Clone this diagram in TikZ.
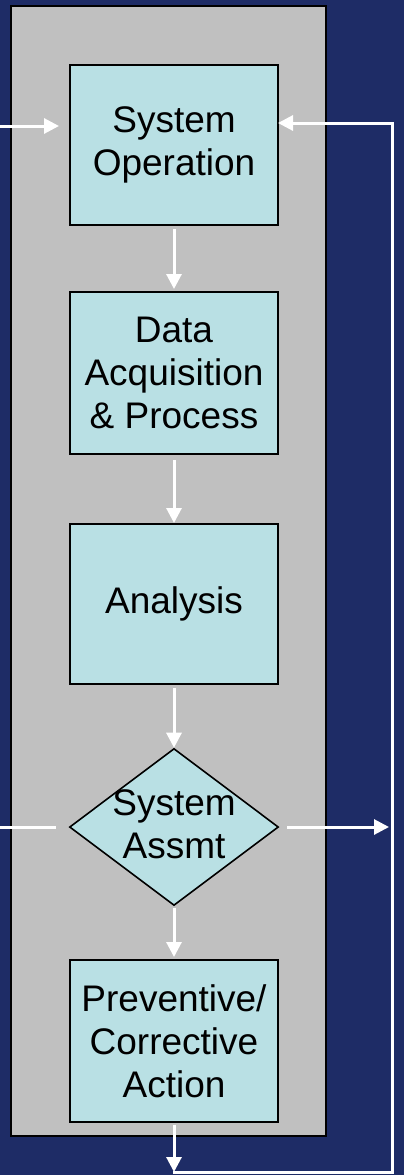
\documentclass[tikz,border=0pt]{standalone}
\usepackage{fontspec}
\setmainfont{Liberation Sans}
\usetikzlibrary{shapes.geometric,arrows.meta}
\definecolor{navy}{RGB}{30,44,102}
\definecolor{panelgray}{RGB}{192,192,192}
\definecolor{boxcyan}{RGB}{185,224,228}
\tikzset{
  stepbox/.style={draw=black,line width=2pt,fill=boxcyan,minimum width=208pt,minimum height=160pt,inner sep=0pt,align=center,font=\fontsize{37}{43}\selectfont},
  decbox/.style={draw=black,line width=1.6pt,fill=boxcyan,shape=diamond,minimum width=209pt,minimum height=157pt,inner sep=0pt},
  lbl/.style={align=center,font=\fontsize{37}{43}\selectfont,inner sep=0pt},
  flow/.style={draw=white,line width=3pt,-{Triangle[width=15pt,length=15pt]}},
  wline/.style={draw=white,line width=3pt}
}
\begin{document}
\begin{tikzpicture}[x=1pt,y=-1pt]
\useasboundingbox (0,0) rectangle (404,1175);
\fill[navy] (0,0) rectangle (404,1175);
\draw[black,line width=2pt,fill=panelgray] (11,6) rectangle (326,1136);
\node[stepbox] (op) at (174,145) {System\\Operation};
\node[stepbox,minimum height=162pt] (daq) at (174,373) {Data\\Acquisition\\\& Process};
\node[stepbox] (an) at (174,604) {Analysis};
\node[decbox] (dec) at (174,827) {};
\node[lbl] (dectxt) at (174,824) {System\\Assmt};
\node[stepbox,minimum height=162pt] (act) at (174,1041) {Preventive/\\Corrective\\Action};
\coordinate (inL) at (0,126);
\coordinate (decL) at (0,827);
\coordinate (decLe) at (56,827);
\coordinate (decR) at (287,827);
\coordinate (decRe) at (389,827);
\coordinate (bot) at (174,1172);
\coordinate (botR) at (392,1172);
\coordinate (topR) at (392,123);
\draw[flow,shorten >=10pt] (inL) -- (op.west |- inL);
\draw[flow,shorten <=3pt,shorten >=2pt] (op.south) -- (daq.north);
\draw[flow,shorten <=5pt] (daq.south) -- (an.north);
\draw[flow,shorten <=3pt] (an.south) -- (dec.north);
\draw[flow,shorten <=2pt,shorten >=2pt] (dec.south) -- (act.north);
\draw[flow,shorten <=2pt] (act.south) -- (bot);
\draw[wline] (decL) -- (decLe);
\draw[flow] (decR) -- (decRe);
\draw[wline,line cap=rect] (bot) -- (botR) -- (topR);
\draw[flow,shorten >=-1pt] (topR) -- (op.east |- topR);
\end{tikzpicture}
\end{document}
